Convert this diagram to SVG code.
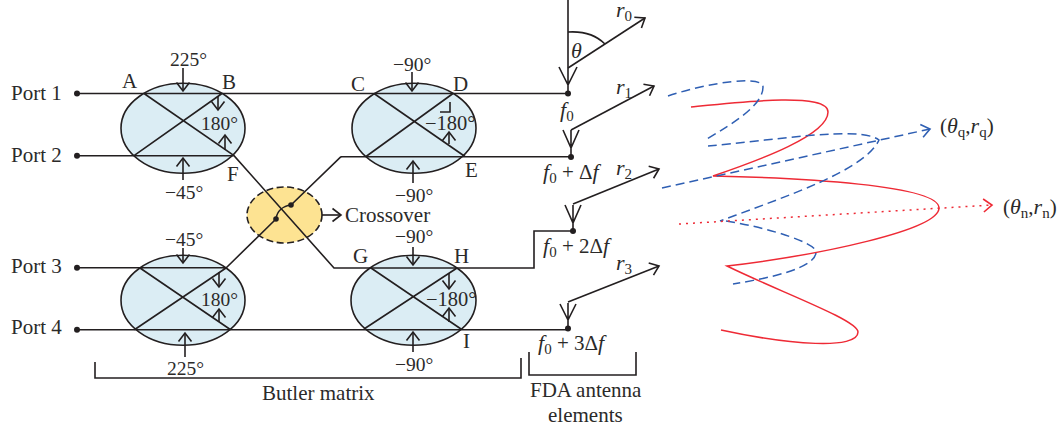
<svg xmlns="http://www.w3.org/2000/svg" width="1062" height="430" viewBox="0 0 1062 430">
<style>
text{font-family:"Liberation Serif","Times New Roman",serif;font-size:21px;fill:#2b2a29}
.n{font-size:19.5px}
.s{font-size:15px}
.i{font-style:italic;font-size:22px}
.c{fill:#dbedf4;stroke:#231f20;stroke-width:1.6}
.x{fill:#fde392;stroke:#231f20;stroke-width:1.6;stroke-dasharray:7 3.5}
.l{fill:none;stroke:#231f20;stroke-width:1.6}
.a{marker-end:url(#ak)}
.d{fill:#231f20}
.red{fill:none;stroke:#ee2a35;stroke-width:1.5}
.blue{fill:none;stroke:#2f5fb3;stroke-width:1.5;stroke-dasharray:9 5}
</style>
<defs>
<marker id="ak" markerUnits="userSpaceOnUse" markerWidth="20" markerHeight="20" refX="10" refY="8" orient="auto"><path d="M1.5,1.5L10,8L1.5,14.5" fill="none" stroke="#231f20" stroke-width="1.6"/></marker>
<marker id="ab" markerUnits="userSpaceOnUse" markerWidth="20" markerHeight="20" refX="10" refY="8" orient="auto"><path d="M1.5,1.5L10,8L1.5,14.5" fill="none" stroke="#2f5fb3" stroke-width="1.6"/></marker>
<marker id="ar" markerUnits="userSpaceOnUse" markerWidth="20" markerHeight="20" refX="10" refY="8" orient="auto"><path d="M1.5,1.5L10,8L1.5,14.5" fill="none" stroke="#ee2a35" stroke-width="1.6"/></marker>
</defs>

<g id="coupler-1">
<ellipse class="c" cx="183" cy="128.3" rx="62" ry="45"/>
<text class="n" x="170" y="66">225°</text><text x="122" y="88">A</text><text x="222" y="89">B</text><text class="n" x="201" y="130">180°</text><text x="227" y="181">F</text><text class="n" x="165" y="199">−45°</text>
</g>
<g id="coupler-2">
<ellipse class="c" cx="414" cy="128.3" rx="62" ry="45"/>
<text class="n" x="393" y="71">−90°</text><text x="351" y="91">C</text><text x="453" y="91">D</text><text x="425" y="130" style="font-size:20.500px">−180°</text><text x="465" y="177">E</text><text class="n" x="395" y="202">−90°</text>
</g>
<g id="coupler-3">
<ellipse class="c" cx="183" cy="300.3" rx="62" ry="45"/>
<text class="n" x="165" y="246">−45°</text><text class="n" x="201" y="306">180°</text><text class="n" x="167" y="375">225°</text>
</g>
<g id="coupler-4">
<ellipse class="c" cx="413.500" cy="300.3" rx="62.500" ry="45"/>
<text class="n" x="395" y="243">−90°</text><text x="353" y="263">G</text><text x="454" y="263">H</text><text x="426" y="306" style="font-size:20.500px">−180°</text><text x="463" y="348">I</text><text class="n" x="395" y="371">−90°</text>
</g>
<g id="crossover">
<ellipse class="x" cx="284.500" cy="215" rx="37.500" ry="28"/>
<text x="345" y="222">Crossover</text>
</g>
<g id="ports">
<text x="11" y="100">Port 1</text><text x="11" y="162">Port 2</text><text x="11" y="273">Port 3</text><text x="11" y="334">Port 4</text>
</g>
<g id="antenna-labels">
<text x="560" y="117"><tspan class="i">f</tspan><tspan class="s" dy="4">0</tspan></text>
<text x="543" y="179"><tspan class="i">f</tspan><tspan class="s" dy="4">0</tspan><tspan dy="-4"> + Δ</tspan><tspan class="i">f</tspan></text>
<text x="543" y="253"><tspan class="i">f</tspan><tspan class="s" dy="4">0</tspan><tspan dy="-4"> + 2Δ</tspan><tspan class="i">f</tspan></text>
<text x="538" y="350"><tspan class="i">f</tspan><tspan class="s" dy="4">0</tspan><tspan dy="-4"> + 3Δ</tspan><tspan class="i">f</tspan></text>
<text x="616" y="17"><tspan class="i">r</tspan><tspan class="s" dy="4">0</tspan></text>
<text x="616" y="94"><tspan class="i">r</tspan><tspan class="s" dy="4">1</tspan></text>
<text x="616" y="175"><tspan class="i">r</tspan><tspan class="s" dy="4">2</tspan></text>
<text x="616" y="270"><tspan class="i">r</tspan><tspan class="s" dy="4">3</tspan></text>
<text x="571" y="58" class="i">θ</text>
<text x="940" y="133">(<tspan class="i">θ</tspan><tspan class="s" dy="4">q</tspan><tspan dy="-4">,</tspan><tspan class="i">r</tspan><tspan class="s" dy="4">q</tspan><tspan dy="-4">)</tspan></text>
<text x="1003" y="214">(<tspan class="i">θ</tspan><tspan class="s" dy="4">n</tspan><tspan dy="-4">,</tspan><tspan class="i">r</tspan><tspan class="s" dy="4">n</tspan><tspan dy="-4">)</tspan></text>
<text x="262" y="400">Butler matrix</text>
<text x="530" y="397">FDA antenna</text>
<text x="548" y="422">elements</text>
</g>

<g id="connectors">
<path class="l" d="M77,93.500H568M77,155.700H234M144,93.500L234,155.700L334,268H534V231H573M222,93.500L134,155.700"/>
<path class="l" d="M374,93.500L465,156.500M453,93.500L366,156.500M341,156.700H571"/>
<path class="l" d="M291,205L341,156.700M276,219C277,211 283,206 291,205M276,219L226,268"/>
<path class="l" d="M77,267.700H226M77,329.700H568M140,268L231,330M226,268L134,330M371,268L461,329M457,268L364,329"/>
<g class="d"><circle cx="77" cy="93.500" r="3"/><circle cx="77" cy="155.700" r="3"/><circle cx="77" cy="267.700" r="3"/><circle cx="77" cy="329.700" r="3"/><circle cx="291" cy="205" r="2.800"/><circle cx="276" cy="219" r="2.800"/><circle cx="568" cy="93.500" r="3"/><circle cx="571" cy="157" r="3"/><circle cx="573" cy="231" r="3"/><circle cx="568" cy="328.500" r="3"/></g>
<path class="l a" d="M183,68V91"/><path class="l a" d="M218,96V110"/><path class="l a" d="M225,150V135"/><path class="l a" d="M183,180V158"/>
<path class="l a" d="M412,72V91"/><path class="l a" d="M449,144V132"/><path class="l a" d="M413,183V161"/>
<path class="l" d="M440,112H450V102"/>
<path class="l a" d="M183,248V263"/><path class="l a" d="M219,272V287"/><path class="l a" d="M219,322V309"/><path class="l a" d="M185,357V333"/>
<path class="l a" d="M413,247V265"/><path class="l a" d="M449,273V289"/><path class="l a" d="M449,322V308"/><path class="l a" d="M413,352V332"/>
<path class="l a" d="M322,215H341"/>
<path class="l" d="M568,0V93M559,67L568,85L577,67"/>
<path class="l a" d="M568,68L645,18"/><path class="l" d="M568,32C583,31 596,35 605,44"/>
<path class="l" d="M571,157V130M563,130L571,148L579,130"/><path class="l a" d="M571,130L654,86"/>
<path class="l" d="M573,231V205M565,205L573,223L581,205"/><path class="l a" d="M573,204L659,169"/>
<path class="l" d="M568,328V303M560,304L568,320L576,304"/><path class="l a" d="M568,302L659,266"/>
<path class="l" d="M95,362V378H521V358M529,352V375H636V352"/>
<path class="red" d="M691,107C740,102 828,92 828,112C828,135 760,160 713,176C800,178 939,185 939,208C939,230 820,255 727,266C780,292 858,320 858,332C858,350 790,345 721,330"/>
<path class="blue" d="M668,96C710,82 763,75 763,87C763,105 735,122 707,139"/>
<path class="blue" d="M708,146C770,141 860,125 879,140C865,170 790,195 720,221"/>
<path class="blue" d="M726,221C770,228 816,243 816,252C816,268 770,278 733,284"/>
<path class="blue" style="marker-end:url(#ab)" d="M662,188L930,129"/>
<path class="red" style="stroke-dasharray:2 5;marker-end:url(#ar)" d="M679,224L992,205"/>
</g>
</svg>
